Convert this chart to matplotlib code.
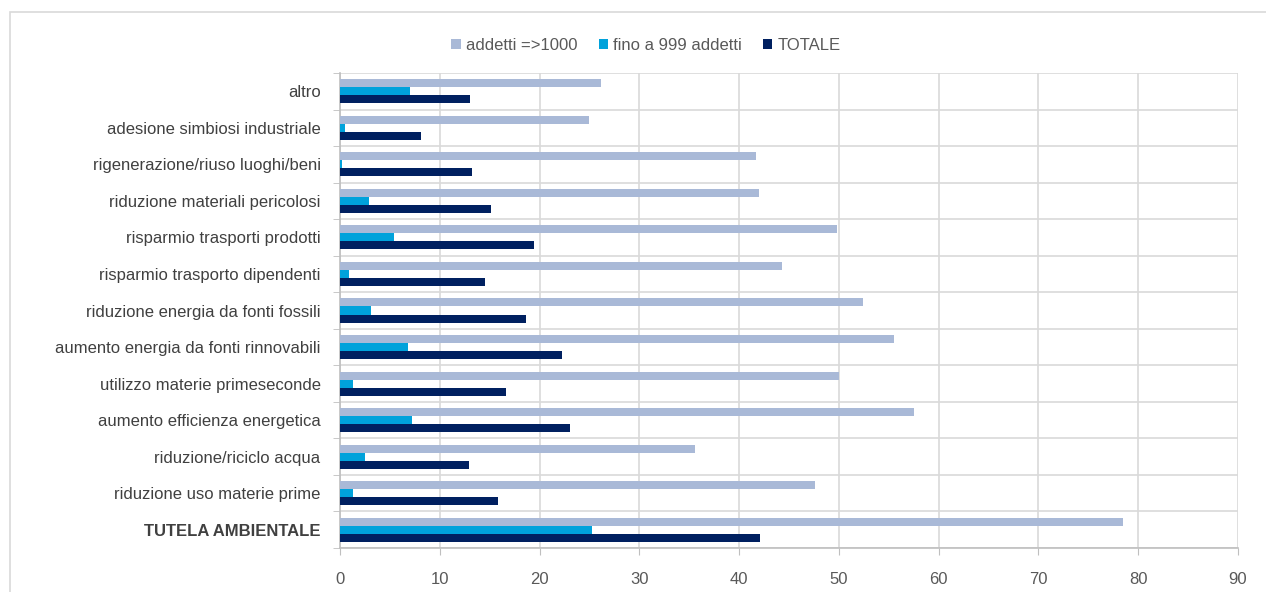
import numpy as np
import matplotlib.pyplot as plt
from matplotlib.patches import Rectangle

# categories listed bottom to top
categories = [
    "TUTELA AMBIENTALE",
    "riduzione uso materie prime",
    "riduzione/riciclo acqua",
    "aumento efficienza energetica",
    "utilizzo materie primeseconde",
    "aumento energia da fonti rinnovabili",
    "riduzione energia da fonti fossili",
    "risparmio trasporto dipendenti",
    "risparmio trasporti prodotti",
    "riduzione materiali pericolosi",
    "rigenerazione/riuso luoghi/beni",
    "adesione simbiosi industriale",
    "altro",
]

big_firms = [78.5, 47.6, 35.6, 57.5, 50.0, 55.5, 52.4, 44.3, 49.8, 42.0, 41.7, 25.0, 26.2]
small_firms = [25.3, 1.3, 2.5, 7.2, 1.3, 6.8, 3.1, 0.9, 5.4, 2.9, 0.2, 0.5, 7.0]
total = [42.1, 15.8, 12.9, 23.1, 16.6, 22.2, 18.6, 14.5, 19.4, 15.1, 13.2, 8.1, 13.0]

series_names = ["addetti =>1000", "fino a 999 addetti", "TOTALE"]
series_colors = ["#A9B9D7", "#00A2DB", "#002060"]
xticks = np.arange(0, 91, 10)

plt.rcParams["font.family"] = ["Liberation Sans", "DejaVu Sans"]
lab_size = 12

fig = plt.figure(figsize=(12.66, 5.92), dpi=100)
ax = fig.add_axes([340 / 1266, 1 - 548 / 592, (1238 - 340) / 1266, (548 - 73) / 592])

y = np.arange(len(categories))
h = 0.22
for k, (vals, name, col) in enumerate(zip([big_firms, small_firms, total], series_names, series_colors)):
    ax.barh(y + (1 - k) * h, vals, height=h, color=col, label=name, zorder=3)

ax.set_xlim(0, 90)
ax.set_ylim(-0.5, len(categories) - 0.5)
ax.set_xticks(xticks)
ax.set_yticks(y)
ax.set_yticklabels(categories)
ax.set_yticks(np.arange(-0.5, len(categories), 1), minor=True)

for lab in ax.get_yticklabels():
    if lab.get_text() == "TUTELA AMBIENTALE":
        lab.set_fontweight("bold")

ax.tick_params(axis="y", which="major", length=0, pad=14, labelsize=lab_size, labelcolor="#404040")
ax.tick_params(axis="y", which="minor", length=5, color="#BFBFBF", direction="out")
ax.tick_params(axis="x", which="major", length=5, color="#BFBFBF", labelsize=lab_size,
               labelcolor="#595959", pad=12)

ax.grid(axis="x", which="major", color="#D9D9D9", linewidth=1.2, zorder=0)
ax.grid(axis="y", which="minor", color="#D9D9D9", linewidth=1.2, zorder=0)

for side in ["top", "right"]:
    ax.spines[side].set_visible(False)
for side in ["left", "bottom"]:
    ax.spines[side].set_color("#BFBFBF")
    ax.spines[side].set_linewidth(1.2)

fig.legend(loc="center", bbox_to_anchor=(646 / 1266, 1 - 45 / 592), ncol=3, frameon=False,
           fontsize=lab_size, labelcolor="#595959", handlelength=0.55, handleheight=0.55,
           handletextpad=0.3, columnspacing=1.3)

# outer chart frame
fig.patches.append(Rectangle((10 / 1266, -0.1), 1.2, 1 - 12 / 592 + 0.1,
                             transform=fig.transFigure, fill=False,
                             edgecolor="#D9D9D9", linewidth=1.2))

fig.savefig("out.png", dpi=100)
